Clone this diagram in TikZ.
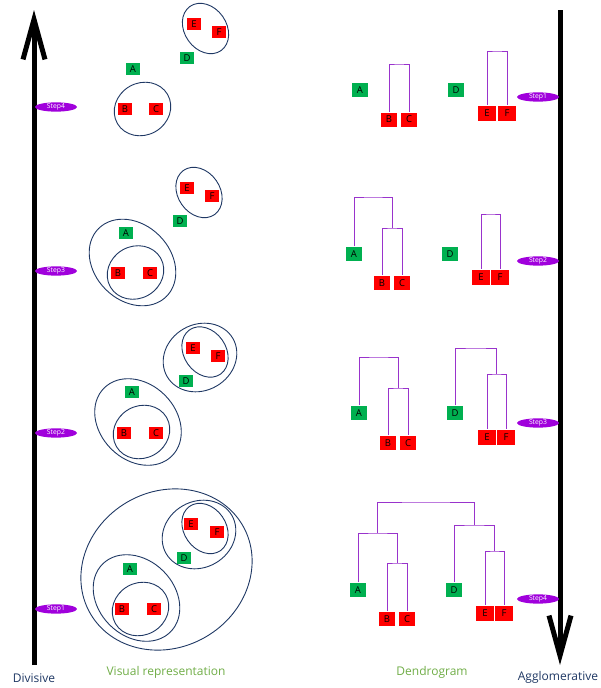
\documentclass[tikz,border=0pt]{standalone}
\usepackage{fontspec}
\setmainfont{Open Sans}
\usepackage{tikz}
\usetikzlibrary{arrows.meta,shapes.geometric}

\definecolor{boxgreen}{RGB}{0,176,80}
\definecolor{boxred}{RGB}{255,0,0}
\definecolor{navy}{RGB}{31,56,100}
\definecolor{linkpurple}{RGB}{153,51,204}
\definecolor{steppurple}{RGB}{160,0,220}
\definecolor{labelgreen}{RGB}{112,173,71}

\tikzset{
	pt/.style={draw=white, line width=0.4pt, inner sep=0pt, font=\fontsize{9.5}{10}\selectfont},
	vA/.style={pt, fill=boxgreen, minimum width=15pt, minimum height=13pt},
	vB/.style={pt, fill=boxred, minimum width=15pt, minimum height=13pt},
	dA/.style={pt, fill=boxgreen, minimum width=17pt, minimum height=15pt},
	dB/.style={pt, fill=boxred, minimum width=17pt, minimum height=15pt},
	dE/.style={pt, fill=boxred, minimum width=19pt, minimum height=16pt},
	cluster/.style={draw=navy, line width=0.9pt},
	link/.style={draw=linkpurple, line width=0.9pt},
	stepmark/.style={ellipse, fill=steppurple, text=white, inner sep=0pt,
		minimum width=42pt, minimum height=8pt, font=\fontsize{6.8}{7}\selectfont},
	axisarrow/.style={line width=5pt, -{Straight Barb[length=40pt, width=22pt]}},
	caption/.style={font=\fontsize{12}{14}\selectfont}
}

\begin{document}
\begin{tikzpicture}[x=1pt, y=-1pt]
	\useasboundingbox (0,0) rectangle (600,688);

	% Axis
	\coordinate (divtop) at (34,10);
	\coordinate (divbot) at (34,665);
	\coordinate (aggtop) at (560,10);
	\coordinate (aggbot) at (560,665);
	\draw[axisarrow] (divbot) -- (divtop);
	\draw[axisarrow] (aggtop) -- (aggbot);

	% Axis Labels
	\node[caption, text=navy] (divisive) at (34,678) {Divisive};
	\node[caption, text=navy] (agglo) at (558,677) {Agglomerative};
	\node[caption, text=labelgreen] (visual) at (166,672) {Visual representation};
	\node[caption, text=labelgreen] (dendro) at (432,672) {Dendrogram};

	% Steps
	\foreach \n/\y in {4/107, 3/271, 2/433, 1/609}
		\node[stepmark] (sl\n) at (56,\y) {Step\n};
	\foreach \n/\y in {1/97, 2/261, 3/423, 4/599}
		\node[stepmark] (sr\n) at (538,\y) {Step\n};

	% Visual representation, step 4
	\node[vA] (vA1) at (133,69) {A};
	\node[vA] (vD1) at (187,58) {D};
	\node[vB] (vE1) at (194,24) {E};
	\node[vB] (vF1) at (219,32) {F};
	\node[vB] (vB1) at (125,109) {B};
	\node[vB] (vC1) at (156,109) {C};
	\draw[cluster, rotate around={30:(142.5,109)}] (142.5,109) ellipse [x radius=29pt, y radius=26pt];
	\draw[cluster, rotate around={-55:(205.5,28.5)}] (205.5,28.5) ellipse [x radius=27pt, y radius=21pt];

	% Visual representation, step 3
	\node[vA] (vA2) at (126,233) {A};
	\node[vA] (vD2) at (180,221) {D};
	\node[vB] (vE2) at (187,188) {E};
	\node[vB] (vF2) at (212,196) {F};
	\node[vB] (vB2) at (118,273) {B};
	\node[vB] (vC2) at (150,273) {C};
	\draw[cluster, rotate around={-55:(199,192.5)}] (199,192.5) ellipse [x radius=27pt, y radius=21pt];
	\draw[cluster, rotate around={30:(135.5,272.5)}] (135.5,272.5) ellipse [x radius=29pt, y radius=26pt];
	\draw[cluster, rotate around={-45:(132.5,262.5)}] (132.5,262.5) ellipse [x radius=48pt, y radius=38pt];

	% Visual representation, step 2
	\node[vA] (vA3) at (132,392) {A};
	\node[vA] (vD3) at (186,381) {D};
	\node[vB] (vE3) at (193,348) {E};
	\node[vB] (vF3) at (218,356) {F};
	\node[vB] (vB3) at (124,433) {B};
	\node[vB] (vC3) at (156,433) {C};
	\draw[cluster, rotate around={-55:(205,352)}] (205,352) ellipse [x radius=27pt, y radius=21pt];
	\draw[cluster, rotate around={30:(200,357.5)}] (200,357.5) ellipse [x radius=38pt, y radius=33pt];
	\draw[cluster, rotate around={30:(141.5,432)}] (141.5,432) ellipse [x radius=29pt, y radius=26pt];
	\draw[cluster, rotate around={-45:(138,422)}] (138,422) ellipse [x radius=48pt, y radius=38pt];

	% Visual representation, step 1
	\node[vA] (vA4) at (130,569) {A};
	\node[vA] (vD4) at (184,558) {D};
	\node[vB] (vE4) at (191,524) {E};
	\node[vB] (vF4) at (217,532) {F};
	\node[vB] (vB4) at (122,609) {B};
	\node[vB] (vC4) at (154,609) {C};
	\draw[cluster, rotate around={-55:(205,528.5)}] (205,528.5) ellipse [x radius=27pt, y radius=21pt];
	\draw[cluster, rotate around={30:(199,534.5)}] (199,534.5) ellipse [x radius=38pt, y radius=33pt];
	\draw[cluster, rotate around={30:(140.5,609)}] (140.5,609) ellipse [x radius=29pt, y radius=26pt];
	\draw[cluster, rotate around={-45:(136.5,598)}] (136.5,598) ellipse [x radius=48pt, y radius=38pt];
	\draw[cluster, rotate around={30:(166.5,569.5)}] (166.5,569.5) ellipse [x radius=88pt, y radius=78pt];

	% Dendrogram, step 1
	\node[dA] (dA1) at (360,90) {A};
	\node[dA] (dD1) at (456,90) {D};
	\node[dB] (dB1) at (389,119.5) {B};
	\node[dB] (dC1) at (409,119.5) {C};
	\node[dE] (dE1) at (487,113) {E};
	\node[dE] (dF1) at (507,113) {F};
	\coordinate (bc1) at (399,64);
	\coordinate (ef1) at (497,51);
	\draw[link] (dB1.north) |- (bc1) -| (dC1.north);
	\draw[link] (dE1.north) |- (ef1) -| (dF1.north);

	% Dendrogram, step 2
	\node[dA] (dA2) at (354,254) {A};
	\node[dA] (dD2) at (450,254) {D};
	\node[dB] (dB2) at (382,283) {B};
	\node[dB] (dC2) at (402,283) {C};
	\node[dE] (dE2) at (481,277) {E};
	\node[dE] (dF2) at (500,277) {F};
	\coordinate (bc2) at (392,228);
	\coordinate (abc2) at (373,197);
	\coordinate (ef2) at (490.5,214);
	\draw[link] (dB2.north) |- (bc2) -| (dC2.north);
	\draw[link] (dA2.north) |- (abc2) -| (bc2);
	\draw[link] (dE2.north) |- (ef2) -| (dF2.north);

	% Dendrogram, step 3
	\node[dA] (dA3) at (359,413) {A};
	\node[dA] (dD3) at (455,413) {D};
	\node[dB] (dB3) at (388,443) {B};
	\node[dB] (dC3) at (408,443) {C};
	\node[dE] (dE3) at (487,437) {E};
	\node[dE] (dF3) at (506,437) {F};
	\coordinate (bc3) at (398,388);
	\coordinate (abc3) at (378.5,357);
	\coordinate (ef3) at (496.5,374);
	\coordinate (def3) at (475.75,348);
	\draw[link] (dB3.north) |- (bc3) -| (dC3.north);
	\draw[link] (dA3.north) |- (abc3) -| (bc3);
	\draw[link] (dE3.north) |- (ef3) -| (dF3.north);
	\draw[link] (dD3.north) |- (def3) -| (ef3);

	% Dendrogram, step 4
	\node[dA] (dA4) at (358,590) {A};
	\node[dA] (dD4) at (454,590) {D};
	\node[dB] (dB4) at (387,619) {B};
	\node[dB] (dC4) at (407,619) {C};
	\node[dE] (dE4) at (485,613) {E};
	\node[dE] (dF4) at (504,613) {F};
	\coordinate (bc4) at (397,563);
	\coordinate (abc4) at (377.5,533);
	\coordinate (ef4) at (494.5,551);
	\coordinate (def4) at (474.25,525);
	\coordinate (root4) at (426,502);
	\draw[link] (dB4.north) |- (bc4) -| (dC4.north);
	\draw[link] (dA4.north) |- (abc4) -| (bc4);
	\draw[link] (dE4.north) |- (ef4) -| (dF4.north);
	\draw[link] (dD4.north) |- (def4) -| (ef4);
	\draw[link] (abc4) |- (root4) -| (def4);
\end{tikzpicture}
\end{document}
